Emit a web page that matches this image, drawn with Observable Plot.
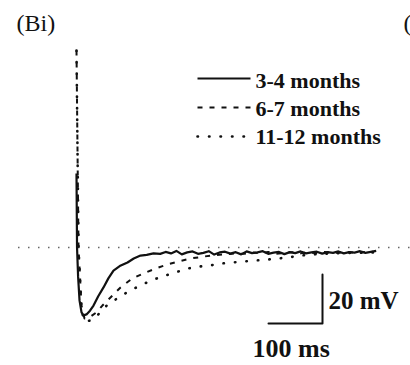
<!DOCTYPE html>
<html>
<head>
<meta charset="utf-8">
<script src="https://cdn.jsdelivr.net/npm/d3@7"></script>
<script src="https://cdn.jsdelivr.net/npm/@observablehq/plot@0.6"></script>
<style>
  html, body { margin: 0; padding: 0; background: #fff; }
  #chart svg { display: block; background: #fff; }
</style>
</head>
<body>
<div id="chart"></div>
<script>
// ---- Data (time in ms after stimulus, voltage in mV relative to baseline) ----
const groups = ["3-4 months", "6-7 months", "11-12 months"];

const t34 = [0, 1, 3, 5.6, 9.3, 13, 18.5, 25, 31.5, 40, 50, 59, 68.5, 80, 94.5, 106, 118.5, 130, 142.6,
  155, 165, 175, 185, 195, 205, 215, 225, 235, 245, 255, 265, 275, 285, 295, 305, 315, 325, 335, 345,
  355, 365, 375, 385, 395, 405, 415, 425, 435, 445, 455, 465, 475, 485, 495, 505, 515, 525, 535, 545, 555];
const v34 = [30.2, 0, -12, -21.6, -26.5, -27.7, -27.3, -25.8, -23.7, -20, -16.3, -12.6, -9.4, -7.6, -6.1, -4.5, -3.3, -3.0, -2.4,
  -2.6, -1.8, -2.4, -1.4, -2.8, -2.0, -1.6, -2.6, -2.2, -1.5, -2.9, -2.0, -1.7, -2.5, -1.9, -2.8, -1.6, -2.3, -2.0, -1.5,
  -2.6, -2.1, -1.8, -2.7, -1.9, -2.3, -1.6, -2.4, -2.0, -1.7, -2.5, -1.9, -2.2, -1.6, -2.4, -1.9, -2.1, -1.5, -2.2, -1.8, -1.4];

const t67 = [0, 3.7, 9.3, 14.8, 26, 37, 48, 66.7, 81.5, 103.7, 124, 146, 168.5, 189, 211, 248, 294,
  310, 325, 340, 355, 370, 385, 400, 415, 430, 445, 460, 475, 490, 505, 520, 535, 550];
const v67 = [80.4, 0, -23.7, -29, -28.2, -26.5, -23.7, -19.6, -16.3, -12.6, -10.6, -8.6, -6.9, -5.7, -4.5, -3.3, -2.4,
  -2.6, -2.0, -2.4, -1.8, -2.6, -2.2, -1.9, -2.4, -2.0, -2.3, -1.8, -2.2, -2.0, -1.9, -2.1, -1.8, -1.7];

const t1112 = [0, 3.7, 9.3, 14.8, 26, 35, 53.7, 77.8, 100, 122, 142.6, 165, 183, 205.6, 226, 248, 270,
  309, 331.5, 353.7, 391, 415, 440, 470, 500, 530, 557];
const v1112 = [80.4, 0, -25.7, -30.2, -29.8, -28.6, -24.1, -20.4, -17.5, -15.1, -13.1, -11.4, -10.2, -8.6, -7.8, -7.3, -6.5,
  -5.7, -5.3, -4.9, -4.1, -3.3, -2.8, -2.4, -2.2, -2.1, -2.0];

const scaleBarMs = 100;
const scaleBarMv = 20;
const scaleLabels = ["20 mV", "100 ms"];
const panelLabels = ["(Bi)", "("];

// ---- Layout helpers (pixel -> data units) ----
const W = 410, H = 365;
const msPerPx = 100 / 54, mVPerPx = 20 / 49;
const X = px => (px - 76) * msPerPx;
const Y = py => (247 - py) * mVPerPx;

const toRows = (ts, vs, g) => ts.map((t, i) => ({t, v: vs[i], g}));
const traces = [
  toRows(t1112, v1112, groups[2]),
  toRows(t67, v67, groups[1]),
  toRows(t34, v34, groups[0])
];
const styles = {
  [groups[0]]: {dash: null, width: 2.2, cap: "butt"},
  [groups[1]]: {dash: "5,7", width: 2, cap: "butt"},
  [groups[2]]: {dash: "0.5,11", width: 2.6, cap: "round"}
};

// legend
const legendRows = groups.map((g, i) => ({
  g,
  x1: X(197), x2: X(250),
  y: Y(78 + i * 29),
  tx: X(255),
  ty: Y(87 + i * 28)
}));

const cornerT = X(322), cornerV = Y(323);

const serif = "'Liberation Serif', 'DejaVu Serif', serif";

const marks = [
  Plot.ruleY([0], {x1: X(18), x2: X(410), stroke: "#666", strokeWidth: 1.3, strokeDasharray: "1.5,8.5"}),
  ...traces.map(rows => Plot.line(rows, {
    x: "t", y: "v", stroke: "#111",
    strokeWidth: styles[rows[0].g].width,
    strokeDasharray: styles[rows[0].g].dash,
    strokeLinecap: styles[rows[0].g].cap,
    strokeLinejoin: "round"
  })),
  // legend samples
  ...legendRows.map(r => Plot.link([r], {
    x1: "x1", x2: "x2", y1: "y", y2: "y", stroke: "#111",
    strokeWidth: styles[r.g].width, strokeDasharray: styles[r.g].dash, strokeLinecap: styles[r.g].cap
  })),
  Plot.text(legendRows, {x: "tx", y: "ty", text: "g", textAnchor: "start", lineAnchor: "bottom",
    fontFamily: serif, fontWeight: "bold", fontSize: 22, fill: "#111"}),
  // scale bar
  Plot.line([{t: cornerT - scaleBarMs, v: cornerV}, {t: cornerT, v: cornerV}, {t: cornerT, v: cornerV + scaleBarMv}],
    {x: "t", y: "v", stroke: "#111", strokeWidth: 2}),
  Plot.text([scaleLabels[0]], {x: X(328), y: Y(308), text: d => d, textAnchor: "start", lineAnchor: "bottom",
    fontFamily: serif, fontWeight: "bold", fontSize: 25, fill: "#111"}),
  Plot.text([scaleLabels[1]], {x: X(252), y: Y(356), text: d => d, textAnchor: "start", lineAnchor: "bottom",
    fontFamily: serif, fontWeight: "bold", fontSize: 26, fill: "#111"}),
  // panel labels
  Plot.text([panelLabels[0]], {x: X(16), y: Y(30), text: d => d, textAnchor: "start", lineAnchor: "bottom",
    fontFamily: serif, fontSize: 24, fill: "#111"}),
  Plot.text([panelLabels[1]], {x: X(403), y: Y(30), text: d => d, textAnchor: "start", lineAnchor: "bottom",
    fontFamily: serif, fontSize: 24, fill: "#111"})
];

const chart = Plot.plot({
  width: W, height: H,
  margin: 0,
  x: {domain: [X(0), X(W)], axis: null},
  y: {domain: [Y(H), Y(0)], axis: null},
  style: {background: "#fff", overflow: "visible"},
  marks
});
document.getElementById("chart").appendChild(chart);
</script>
</body>
</html>
